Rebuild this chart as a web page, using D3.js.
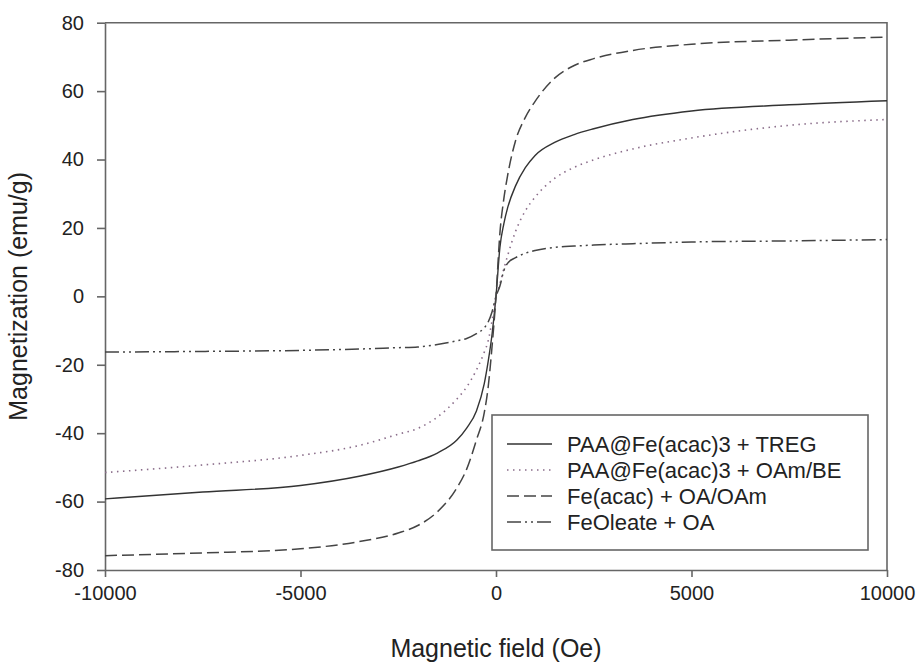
<!DOCTYPE html>
<html>
<head>
  <meta charset="utf-8">
  <title>magnetization</title>
  <style>
    body { margin: 0; background: #fff; }
    text { font-family: "Liberation Sans", Arial, sans-serif; fill: #222; }
    .axis path, .axis line { stroke: #666; stroke-width: 1.6; }
    .axis text { font-size: 20px; }
  </style>
  <script src="https://cdn.jsdelivr.net/npm/d3@7"></script>
</head>
<body>
<script type="text/javascript">

  // Feldstaerke (Oe), gemeinsam fuer alle Kurven
  var field = [-10000, -7500, -5000, -3500, -2500, -2000, -1500, -1000, -750, -500, -300, -200, -100, 0,
               100, 200, 300, 500, 750, 1000, 1500, 2000, 2500, 3500, 5000, 7500, 10000];

  // Magnetisierung (emu/g)
  var tregValues   = [-59.2, -57.2, -55.3, -52.6, -49.9, -48.1, -45.8, -42.0, -38.5, -33.5, -25.5, -19.0, -11.0, 0,
                      14.3, 21.2, 26.0, 32.3, 37.6, 41.2, 45.0, 47.3, 49.0, 51.7, 54.2, 56.0, 57.2];
  var oamValues    = [-51.5, -49.3, -46.5, -43.6, -40.3, -38.6, -35.3, -30.0, -26.5, -21.5, -16.3, -13.0, -7.0, 0,
                      3.7, 8.0, 12.0, 19.0, 25.0, 29.0, 34.5, 37.7, 39.9, 43.1, 46.3, 50.0, 51.7];
  var oaOamValues  = [-75.8, -75.0, -73.8, -71.7, -69.2, -67.0, -63.0, -56.0, -50.5, -42.0, -34.0, -26.5, -14.5, 0,
                      18.5, 28.5, 35.5, 45.5, 52.3, 57.0, 63.8, 67.5, 69.5, 71.9, 73.7, 74.9, 75.8];
  var oleateValues = [-16.3, -16.1, -15.8, -15.4, -15.0, -14.8, -14.1, -13.0, -12.3, -10.9, -9.2, -7.5, -4.5, 0,
                      3.0, 7.5, 9.7, 11.3, 12.6, 13.4, 14.3, 14.7, 15.0, 15.4, 15.9, 16.2, 16.6];

  var seriesNames = ["PAA@Fe(acac)3 + TREG", "PAA@Fe(acac)3 + OAm/BE", "Fe(acac) + OA/OAm", "FeOleate + OA"];
  var xTicks = [-10000, -5000, 0, 5000, 10000];
  var yTicks = [-80, -60, -40, -20, 0, 20, 40, 60, 80];

  var seriesValues = [tregValues, oamValues, oaOamValues, oleateValues];
  var lineStyles = [
    {stroke: "#333", dash: null, width: 1.4},
    {stroke: "#8a6d8a", dash: "1.5,4.5", width: 1.6},
    {stroke: "#444", dash: "12,5", width: 1.5},
    {stroke: "#444", dash: "14,4,2,4,2,4", width: 1.5}
  ];

  var margin = {top: 22.7, right: 30, bottom: 92, left: 105};
  var width = 917 - margin.left - margin.right;
  var height = 662 - margin.top - margin.bottom;

  var svg = d3.select("body").append("svg")
    .attr("width", 917)
    .attr("height", 662);

  var g = svg.append("g")
    .attr("transform", "translate(" + margin.left + "," + margin.top + ")");

  var x = d3.scaleLinear().domain([-10000, 10000]).range([0, width]);
  var y = d3.scaleLinear().domain([-80, 80]).range([height, 0]);

  // einfache Zahlen ohne Tausendertrenner, normales Minus
  var plain = function(d) { return String(d); };

  // Rahmen oben und rechts
  g.append("path")
    .attr("d", "M0,0H" + width + "V" + height)
    .attr("fill", "none")
    .attr("stroke", "#666")
    .attr("stroke-width", 1.6);

  g.append("g")
    .attr("class", "axis axis--x")
    .attr("transform", "translate(0," + height + ")")
    .call(d3.axisBottom(x).tickValues(xTicks).tickFormat(plain).tickSize(7).tickSizeOuter(0).tickPadding(9));

  g.append("g")
    .attr("class", "axis axis--y")
    .call(d3.axisLeft(y).tickValues(yTicks).tickFormat(plain).tickSize(8).tickSizeOuter(0).tickPadding(13));

  // Kurven
  var line = d3.line()
    .x(function(d) { return x(d[0]); })
    .y(function(d) { return y(d[1]); })
    .curve(d3.curveMonotoneX);

  seriesValues.forEach(function(vals, i) {
    var pts = field.map(function(h, j) { return [h, vals[j]]; });
    g.append("path")
      .datum(pts)
      .attr("fill", "none")
      .attr("stroke", lineStyles[i].stroke)
      .attr("stroke-width", lineStyles[i].width)
      .attr("stroke-dasharray", lineStyles[i].dash)
      .attr("d", line);
  });

  // Achsentitel
  svg.append("text")
    .attr("x", margin.left + width / 2)
    .attr("y", 657)
    .attr("text-anchor", "middle")
    .style("font-size", "25px")
    .text("Magnetic field (Oe)");

  svg.append("text")
    .attr("transform", "translate(27," + (margin.top + height / 2) + ") rotate(-90)")
    .attr("text-anchor", "middle")
    .style("font-size", "25px")
    .text("Magnetization (emu/g)");

  // Legende
  var legend = svg.append("g").attr("transform", "translate(492,415)");
  legend.append("rect")
    .attr("width", 376)
    .attr("height", 135)
    .attr("fill", "#fff")
    .attr("stroke", "#666")
    .attr("stroke-width", 1.6);

  var rows = legend.selectAll(".row")
    .data(seriesNames)
    .enter().append("g")
    .attr("class", "row")
    .attr("transform", function(d, i) { return "translate(0," + (29 + i * 26) + ")"; });

  rows.append("line")
    .attr("x1", 15).attr("x2", 60)
    .attr("stroke", function(d, i) { return lineStyles[i].stroke; })
    .attr("stroke-width", function(d, i) { return lineStyles[i].width; })
    .attr("stroke-dasharray", function(d, i) { return lineStyles[i].dash; });

  rows.append("text")
    .attr("x", 75)
    .attr("dy", "0.36em")
    .style("font-size", "22px")
    .text(function(d) { return d; });

</script>
</body>
</html>
